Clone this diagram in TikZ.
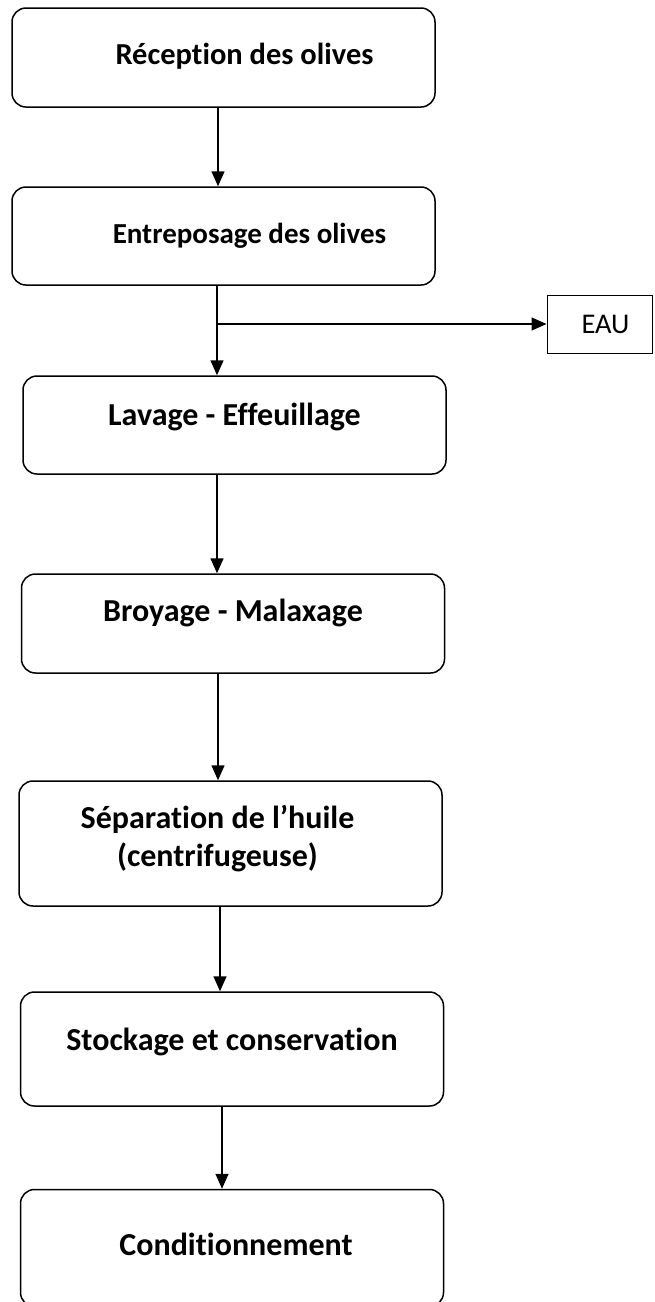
\documentclass[tikz,border=0pt]{standalone}
\usepackage{fontspec}
\setmainfont{Carlito}[Ligatures={NoCommon,NoContextual}]
\usetikzlibrary{arrows.meta}
\begin{document}
\begin{tikzpicture}[x=1pt,y=-1pt,
  proc/.style={draw, rounded corners=14pt, line width=1.5pt, minimum width=423pt,
    font=\bfseries\fontsize{32}{38}\selectfont, align=center, inner sep=0pt,
    text height=19pt},
  eaubox/.style={draw, line width=1pt, minimum width=105pt, minimum height=58pt,
    font=\fontsize{28.5}{32}\selectfont, inner sep=0pt},
  arr/.style={line width=1.5pt, -{Triangle[width=13pt,length=15pt]}}]
\useasboundingbox (0,0) rectangle (654,1302);
\node[proc, minimum height=99pt, text depth=6pt, font=\bfseries\fontsize{30.5}{36}\selectfont] (b1) at (223.5,57.5) {\hspace*{42pt}Réception des olives};
\node[proc, minimum height=98pt, text depth=5pt, font=\bfseries\fontsize{29}{34}\selectfont] (b2) at (223.5,236) {\hspace*{52pt}Entreposage des olives};
\node[proc, minimum height=98pt, text depth=19pt] (b3) at (234.5,425) {Lavage - Effeuillage};
\node[proc, minimum height=99pt, text depth=24pt] (b4) at (233,623.5) {Broyage - Malaxage};
\node[proc, minimum height=125pt, text height=50pt, text depth=5pt] (b5) at (230.5,843.5) {Séparation de l’huile\hspace*{26pt}\\(centrifugeuse)\hspace*{26pt}};
\node[proc, minimum height=114pt, text depth=16pt] (b6) at (232,1049) {Stockage et conservation};
\node[proc, minimum height=117pt, text depth=5pt] (b7) at (232,1248) {\hspace*{8pt}Conditionnement};
\node[eaubox] (eau) at (599.5,324) {\hspace*{12pt}EAU};
\draw[arr] ([xshift=-5.5pt]b1.south) -- ([xshift=-5.5pt]b1.south |- b2.north);
\draw[arr] ([xshift=-6.5pt]b2.south) -- ([xshift=-6.5pt]b2.south |- b3.north);
\coordinate (br) at ([xshift=-6.5pt]b2.south |- eau.west);
\draw[arr] (br) -- (eau.west);
\draw[arr] ([xshift=-17.5pt]b3.south) -- ([xshift=-17.5pt]b3.south |- b4.north);
\draw[arr] ([xshift=-15pt]b4.south) -- ([xshift=-15pt]b4.south |- b5.north);
\draw[arr] ([xshift=-10.5pt]b5.south) -- ([xshift=-10.5pt]b5.south |- b6.north);
\draw[arr] ([xshift=-10pt]b6.south) -- ([xshift=-10pt]b6.south |- b7.north);
\end{tikzpicture}
\end{document}
